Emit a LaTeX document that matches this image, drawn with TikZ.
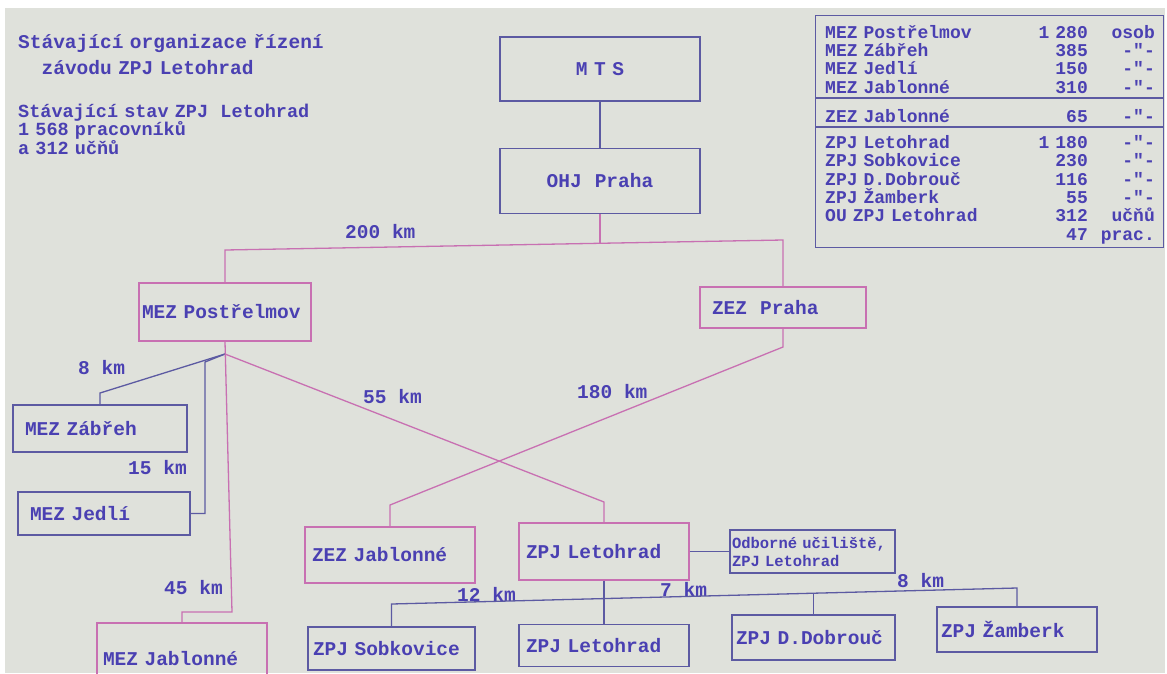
\documentclass[tikz,border=0pt]{standalone}
\usepackage{fontspec}
\setmainfont{Liberation Mono}[Ligatures=TeXOff]
\usetikzlibrary{positioning}
\definecolor{paper}{RGB}{223,225,219}
\definecolor{ink}{RGB}{74,64,178}
\definecolor{pinkln}{RGB}{200,112,178}
\definecolor{blueln}{RGB}{92,90,162}
\newcommand\tyfont[2]{\bfseries\fontsize{#1}{#2}\selectfont\lineskiplimit=-50pt\relax}
\newcommand\ditto{-"-}

\begin{document}
\begin{tikzpicture}[x=1pt, y=-1pt, every node/.style={text=ink, font=\tyfont{19.5}{22}},
  bbox/.style={draw=blueln, line width=1.3pt, inner xsep=6pt, inner ysep=0pt, align=left},
  pbox/.style={bbox, draw=pinkln},
  bline/.style={draw=blueln, line width=1.3pt},
  pline/.style={draw=pinkln, line width=1.3pt},
  km/.style={anchor=west, inner sep=0pt},
  col/.style={inner sep=0pt, font=\tyfont{18}{18.4}}]
\useasboundingbox (0,0) rectangle (1167,673);
\fill[white] (0,0) rectangle (1167,673);
\fill[paper] (5,8) rectangle (1165,673);

\node[anchor=base west, inner sep=0pt, text width=400pt, align=left, font=\tyfont{19.5}{26}] (title) at (18,48) {Stávající organizace řízení\\\phantom{xx}závodu ZPJ Letohrad};
\node[anchor=base west, inner sep=0pt, text width=400pt, align=left, font=\tyfont{18.5}{18.5}] (stav) at (18,117) {Stávající stav ZPJ\ \ Letohrad\\1 568 pracovníků\\a 312 učňů};

\node[bbox, align=center, text width=188pt, minimum height=64pt] (mts) at (600,69) {M T S};
\node[bbox, align=center, text width=188pt, minimum height=65pt, below=46pt of mts] (ohj) {OHJ\ \ Praha};
\node[pbox, inner xsep=3pt, text width=166pt, minimum height=58pt] (postrelmov) at (225,312) {MEZ Postřelmov};
\node[pbox, inner xsep=12pt, text width=142pt, minimum height=41pt] (zezpraha) at (783,307.5) {ZEZ\ \ Praha};
\node[bbox, inner xsep=12pt, text width=150pt, minimum height=47pt] (zabreh) at (100,428.5) {MEZ Zábřeh};
\node[bbox, inner xsep=12pt, text width=148pt, minimum height=43pt] (jedli) at (104,513.5) {MEZ Jedlí};
\node[pbox, text width=158pt, minimum height=72pt] (mezjabl) at (182,659) {MEZ Jablonné};
\node[pbox, inner xsep=7pt, text width=156pt, minimum height=56pt] (zezjabl) at (390,555) {ZEZ Jablonné};
\node[pbox, inner xsep=7pt, text width=156pt, minimum height=57pt] (letohrad) at (604,551.5) {ZPJ Letohrad};
\node[bbox, inner xsep=2pt, text width=161pt, minimum height=43pt, font=\tyfont{15.5}{18}] (ou) at (812.5,551.5) {Odborné učiliště,\\ZPJ Letohrad};
\node[bbox, inner xsep=7pt, text width=156pt, minimum height=42pt, below=43pt of letohrad] (letohrad2) {ZPJ Letohrad};
\node[bbox, inner xsep=5pt, text width=157pt, minimum height=43pt] (sobkovice) at (391.5,648.5) {ZPJ Sobkovice};
\node[bbox, inner xsep=4pt, text width=155pt, minimum height=45pt] (dobrouc) at (813.5,637.5) {ZPJ D.Dobrouč};
\node[bbox, inner xsep=4pt, text width=152pt, minimum height=45pt] (zamberk) at (1017,629.5) {ZPJ Žamberk};

\node[bbox, minimum width=348pt, minimum height=232pt, anchor=north west] (tab) at (815,15) {};
\draw[bline] (tab.west |- 0,98) -- (tab.east |- 0,98);
\draw[bline] (tab.west |- 0,127) -- (tab.east |- 0,127);
\node[col, anchor=base west, text width=200pt, align=left] (names) at (825,38) {MEZ Postřelmov\\MEZ Zábřeh\\MEZ Jedlí\\MEZ Jablonné\\[10.6pt]ZEZ Jablonné\\[7.6pt]ZPJ Letohrad\\ZPJ Sobkovice\\ZPJ D.Dobrouč\\ZPJ Žamberk\\OU ZPJ Letohrad};
\node[col, anchor=base east, text width=70pt, align=right] (counts) at (1088,38) {1 280\\385\\150\\310\\[10.6pt]65\\[7.6pt]1 180\\230\\116\\55\\312\\47};
\node[col, anchor=base east, text width=60pt, align=right] (units) at (1155,38) {osob\\\ditto\\\ditto\\\ditto\\[10.6pt]\ditto\\[7.6pt]\ditto\\\ditto\\\ditto\\\ditto\\učňů\\prac.};

\node[km] (k200) at (345,232) {200 km};
\node[km] (k8a) at (78,368) {8 km};
\node[km] (k15) at (128,468) {15 km};
\node[km] (k55) at (363,397) {55 km};
\node[km] (k180) at (577,392) {180 km};
\node[km] (k45) at (164,588) {45 km};
\node[km] (k12) at (457,594) {12 km};
\node[km] (k7) at (660,589) {7 km};
\node[km] (k8b) at (897,581) {8 km};

\coordinate (c200l) at (225,250);
\coordinate (c200m) at (600,243.3);
\coordinate (c200r) at (783,240);
\coordinate (fork) at (225,354);
\coordinate (c8) at (100,393);
\coordinate (c15) at (205,362);
\coordinate (c45) at (232,612);
\coordinate (c55) at (604,502);
\coordinate (c180a) at (783,347);
\coordinate (c180b) at (390,505);
\coordinate (busl) at (391.5,604);
\coordinate (busd) at (813.5,593.2);
\coordinate (busr) at (1017,588);

\draw[bline] (mts) -- (ohj);
\draw[pline] (ohj.south) -- (c200m);
\draw[pline] (postrelmov.north) -- (c200l) -- (c200r) -- (zezpraha.north);
\draw[bline] (fork) -- (c8) -- (zabreh.north);
\draw[bline] (fork) -- (c15) |- (jedli.east);
\draw[pline] (postrelmov.south) -- (c45) -| (mezjabl.north);
\draw[pline] (fork) -- (c55) -- (letohrad.north);
\draw[pline] (zezpraha.south) -- (c180a) -- (c180b) -- (zezjabl.north);
\draw[bline] (letohrad.east) -- (ou.west);
\draw[bline] (letohrad.south) -- (letohrad2.north);
\draw[bline] (sobkovice.north) -- (busl) -- (busr) -- (zamberk.north);
\draw[bline] (dobrouc.north) -- (busd);
\end{tikzpicture}
\end{document}
